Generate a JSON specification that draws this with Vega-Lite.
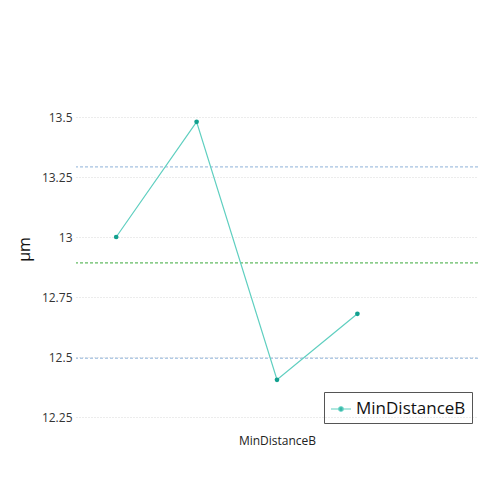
{
  "$schema": "https://vega.github.io/schema/vega-lite/v6.json",
  "autosize": {"type": "none"},
  "width": 402,
  "height": 360,
  "padding": {"left": 76, "top": 69, "right": 17, "bottom": 66},
  "background": "white",
  "config": {
    "font": "Open Sans",
    "view": {"stroke": null}
  },
  "datasets": {
    "points": [
      {"idx": 0, "value": 13.0, "series": "MinDistanceB"},
      {"idx": 1, "value": 13.48, "series": "MinDistanceB"},
      {"idx": 2, "value": 12.405, "series": "MinDistanceB"},
      {"idx": 3, "value": 12.68, "series": "MinDistanceB"}
    ],
    "limits": [
      {"kind": "upper", "y": 13.292},
      {"kind": "mean", "y": 12.892},
      {"kind": "lower", "y": 12.495}
    ]
  },
  "layer": [
    {
      "data": {"name": "limits"},
      "mark": {"type": "rule", "strokeDash": [3, 2], "strokeWidth": 1},
      "encoding": {
        "y": {"field": "y", "type": "quantitative", "scale": {"domain": [12.2, 13.7]}},
        "stroke": {
          "field": "kind",
          "type": "nominal",
          "scale": {"domain": ["upper", "mean", "lower"], "range": ["#8fb2d9", "#3aaa3a", "#8fb2d9"]},
          "legend": null
        }
      }
    },
    {
      "data": {"name": "points"},
      "mark": {"type": "line", "strokeWidth": 1.2},
      "encoding": {
        "x": {
          "field": "idx",
          "type": "quantitative",
          "scale": {"domain": [-0.5, 4.5], "nice": false},
          "axis": {
            "title": "MinDistanceB",
            "labels": false,
            "ticks": false,
            "domain": false,
            "grid": false,
            "titleFontSize": 12,
            "titleFontWeight": "normal",
            "titleColor": "#222",
            "titlePadding": 6
          }
        },
        "y": {
          "field": "value",
          "type": "quantitative",
          "scale": {"domain": [12.2, 13.7], "nice": false, "zero": false},
          "axis": {
            "title": "µm",
            "values": [12.25, 12.5, 12.75, 13, 13.25, 13.5],
            "labelExpr": "datum.value == 13 ? '13' : format(datum.value, '')",
            "domain": false,
            "ticks": false,
            "labelFontSize": 12,
            "labelColor": "#333",
            "labelPadding": 4,
            "titleFontSize": 16,
            "titleFontWeight": "normal",
            "titleColor": "#111",
            "titlePadding": 9,
            "gridColor": "#d8d8d8",
            "gridDash": [1, 2]
          }
        },
        "color": {
          "field": "series",
          "type": "nominal",
          "scale": {"range": ["#5fcfc0"]},
          "legend": {
            "title": null,
            "orient": "bottom-right",
            "offset": 6,
            "strokeColor": "#555",
            "padding": 6,
            "labelFontSize": 17,
            "labelColor": "#111",
            "symbolType": "M-1,0H1M-0.22,0a0.22,0.22 0 1,0 0.44,0a0.22,0.22 0 1,0 -0.44,0",
            "symbolSize": 400,
            "symbolStrokeWidth": 1.2,
            "symbolFillColor": "#12a08f"
          }
        }
      }
    },
    {
      "data": {"name": "points"},
      "mark": {"type": "point", "filled": true, "size": 22, "color": "#12a08f", "opacity": 1},
      "encoding": {
        "x": {"field": "idx", "type": "quantitative"},
        "y": {"field": "value", "type": "quantitative"}
      }
    }
  ]
}
